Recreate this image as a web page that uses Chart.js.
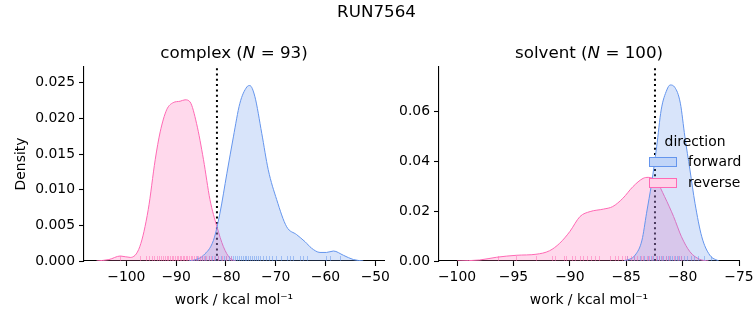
<!DOCTYPE html>
<html>
<head>
<meta charset="utf-8">
<script src="https://cdn.jsdelivr.net/npm/chart.js@4.4.1/dist/chart.umd.min.js"></script>
<style>
  body { margin: 0; background: #fff; }
  #wrap { position: relative; width: 753px; height: 325px; }
  #wrap canvas { position: absolute; left: 0; top: 0; }
</style>
</head>
<body>
<div id="wrap">
  <canvas id="complexChart" width="753" height="325"></canvas>
  <canvas id="solventChart" width="753" height="325"></canvas>
</div>
<script>
// KDE curves (work value, density)
const complexFwdX = [-87.5, -86, -84.5, -82.5, -81.2, -79.8, -78.5, -77.2, -75.8, -75.2, -74.2, -72.8, -71.5, -69.8, -67.8, -65.8, -64.1, -62.8, -61.1, -59.8, -58.4, -56.4, -54.4, -52.4];
const complexFwdY = [0, 0.0002, 0.0008, 0.0029, 0.0067, 0.0123, 0.0174, 0.0221, 0.0244, 0.0246, 0.0231, 0.0179, 0.0128, 0.0086, 0.0048, 0.0037, 0.0027, 0.0018, 0.0012, 0.0012, 0.0014, 0.0008, 0.0002, 0];
const complexRevX = [-106, -103.5, -101.2, -99.2, -97.3, -95.6, -94.2, -93.2, -91.9, -90.6, -89.2, -88.2, -87.2, -85.9, -84.5, -83.2, -81.8, -80.5, -79.2, -78];
const complexRevY = [0, 0.0002, 0.0007, 0.0005, 0.002, 0.0072, 0.0142, 0.0181, 0.0212, 0.0222, 0.0224, 0.0226, 0.0223, 0.0193, 0.0142, 0.0086, 0.0048, 0.002, 0.0004, 0];

const solventFwdX = [-85.2, -84.2, -83.6, -83.2, -82.75, -82.3, -81.9, -81.4, -81.1, -80.7, -80.2, -79.8, -79.35, -78.9, -78.3, -77.6, -76.8];
const solventFwdY = [0, 0.0024, 0.0084, 0.0191, 0.0311, 0.0458, 0.0605, 0.0685, 0.0705, 0.0696, 0.0632, 0.0498, 0.0365, 0.0231, 0.0097, 0.0024, 0];
const solventRevX = [-100, -98, -96.5, -94.7, -93, -91.8, -90.9, -90, -89.1, -88.2, -87, -86.2, -85.3, -84.4, -83.5, -83.05, -82.3, -81.6, -80.8, -80.1, -79.35, -78.5, -77.7];
const solventRevY = [0, 0.0004, 0.0015, 0.0023, 0.0027, 0.0041, 0.0071, 0.0118, 0.0178, 0.0198, 0.0208, 0.0218, 0.0251, 0.0298, 0.0331, 0.0335, 0.0318, 0.0258, 0.0178, 0.0097, 0.0037, 0.0007, 0];

// individual work values (rug)
const complexFwdRug = [-85.8, -84.9, -84.1, -83.4, -82.8, -82.1, -81.5, -80.9, -80.4, -79.9, -79.4, -78.9, -78.5, -78.1, -77.7, -77.3, -76.9, -76.6, -76.2, -75.9, -75.5, -75.2, -74.8, -74.4, -74.0, -73.6, -73.1, -72.6, -72.0, -71.4, -70.7, -69.9, -69.0, -67.8, -67.1, -66.5, -65.2, -64.5, -63.8, -59.8, -59.1, -57.1];
const complexRevRug = [-101.3, -97.2, -96.1, -95.4, -94.9, -94.4, -93.9, -93.5, -93.1, -92.7, -92.3, -91.9, -91.6, -91.2, -90.9, -90.6, -90.2, -89.9, -89.6, -89.3, -89.0, -88.7, -88.4, -88.1, -87.8, -87.4, -87.1, -86.8, -86.4, -86.0, -85.6, -85.2, -84.8, -84.3, -83.9, -83.4, -82.9, -82.3, -81.6, -80.8, -79.9, -79.0];
const solventFwdRug = [-84.9, -84.3, -83.8, -83.4, -83.1, -82.8, -82.6, -82.3, -82.1, -81.9, -81.7, -81.5, -81.3, -81.1, -80.9, -80.7, -80.5, -80.3, -80.1, -79.9, -79.6, -79.3, -79.0, -78.6, -78.1, -77.5];
const solventRevRug = [-96.4, -94.8, -93.0, -91.6, -91.3, -90.5, -90.3, -89.8, -89.5, -89.1, -88.8, -88.5, -88.1, -87.8, -87.4, -86.4, -86.0, -85.7, -85.4, -85.1, -84.9, -84.6, -84.3, -84.0, -83.7, -83.5, -83.2, -83.0, -82.7, -82.4, -82.1, -81.8, -81.5, -81.2, -80.8, -80.4, -80.1];

// free energy estimate (dotted line)
const complexDG = -81.8;
const solventDG = -82.45;

// ticks
const complexXTicks = [-100, -90, -80, -70, -60, -50];
const complexYTicks = [0, 0.005, 0.01, 0.015, 0.02, 0.025];
const solventXTicks = [-100, -95, -90, -85, -80, -75];
const solventYTicks = [0, 0.02, 0.04, 0.06];

const FONT = '"DejaVu Sans", sans-serif';
const BLUE = '#6495ed';
const PINK = '#ff69b4';

const toPoints = (xs, ys) => xs.map((x, i) => ({ x: x, y: ys[i] }));
const fmtMinus = v => (v < 0 ? '\u2212' : '') + Math.abs(v);

function kdeDataset(label, xs, ys, color, fill) {
    return {
        label: label,
        data: toPoints(xs, ys),
        borderColor: color,
        backgroundColor: fill,
        borderWidth: 1,
        fill: 'origin',
        pointRadius: 0,
        cubicInterpolationMode: 'monotone'
    };
}

function drawTitle(ctx, cx, cy, parts) {
    let total = 0;
    parts.forEach(p => {
        ctx.font = (p.italic ? 'italic ' : '') + '16.7px ' + FONT;
        p.w = ctx.measureText(p.text).width;
        total += p.w;
    });
    let x = cx - total / 2;
    ctx.textAlign = 'left';
    ctx.textBaseline = 'middle';
    ctx.fillStyle = '#000';
    parts.forEach(p => {
        ctx.font = (p.italic ? 'italic ' : '') + '16.7px ' + FONT;
        ctx.fillText(p.text, x, cy);
        x += p.w;
    });
}

// rug ticks, titles and legend
const panelExtras = {
    id: 'panelExtras',
    afterDatasetsDraw(chart, args, opts) {
        const ctx = chart.ctx;
        const area = chart.chartArea;
        const xs = chart.scales.x;
        ctx.save();
        ctx.beginPath();
        ctx.rect(area.left, area.top, area.right - area.left, area.bottom - area.top);
        ctx.clip();
        ctx.lineWidth = 1;
        opts.rug.forEach(r => {
            ctx.strokeStyle = r.color;
            r.values.forEach(v => {
                const px = Math.round(xs.getPixelForValue(v)) + 0.5;
                ctx.beginPath();
                ctx.moveTo(px, area.bottom);
                ctx.lineTo(px, area.bottom - 5);
                ctx.stroke();
            });
        });
        ctx.restore();
    },
    afterDraw(chart, args, opts) {
        const ctx = chart.ctx;
        const area = chart.chartArea;
        ctx.save();
        const cx = (area.left + area.right) / 2;
        drawTitle(ctx, cx, area.top - 13, [
            { text: opts.name + ' (' },
            { text: 'N', italic: true },
            { text: ' = ' + opts.n + ')' }
        ]);
        if (opts.suptitle) {
            drawTitle(ctx, chart.width / 2, 13, [{ text: opts.suptitle }]);
        }
        if (opts.legend) {
            ctx.font = '13.9px ' + FONT;
            ctx.textBaseline = 'middle';
            ctx.fillStyle = '#000';
            ctx.textAlign = 'center';
            ctx.fillText('direction', area.right - 44, 142);
            const items = [
                { label: 'forward', color: BLUE, fill: 'rgba(100,149,237,0.4)', y: 157 },
                { label: 'reverse', color: PINK, fill: 'rgba(255,105,180,0.3)', y: 178 }
            ];
            items.forEach(it => {
                const x0 = area.right - 90;
                ctx.fillStyle = '#fff';
                ctx.fillRect(x0, it.y, 28, 10);
                ctx.fillStyle = it.fill;
                ctx.fillRect(x0, it.y, 28, 10);
                ctx.strokeStyle = it.color;
                ctx.lineWidth = 1;
                ctx.strokeRect(x0 + 0.5, it.y + 0.5, 27, 9);
                ctx.fillStyle = '#000';
                ctx.textAlign = 'left';
                ctx.fillText(it.label, area.right - 51, it.y + 5);
            });
        }
        ctx.restore();
    }
};

function makePanel(id, cfg) {
    const tickFont = { family: FONT, size: 13.9 };
    new Chart(document.getElementById(id), {
        type: 'line',
        data: {
            datasets: [
                kdeDataset('forward', cfg.fwdX, cfg.fwdY, BLUE, 'rgba(100,149,237,0.25)'),
                kdeDataset('reverse', cfg.revX, cfg.revY, PINK, 'rgba(255,105,180,0.25)'),
                {
                    label: 'dg',
                    data: [{ x: cfg.dg, y: 0 }, { x: cfg.dg, y: cfg.yMax }],
                    borderColor: '#000',
                    borderWidth: 2,
                    borderDash: [2, 3.3],
                    pointRadius: 0,
                    fill: false
                }
            ]
        },
        options: {
            responsive: false,
            animation: false,
            devicePixelRatio: 1,
            layout: { padding: cfg.padding },
            plugins: {
                legend: { display: false },
                tooltip: { enabled: false },
                panelExtras: cfg.extras
            },
            scales: {
                x: {
                    type: 'linear',
                    min: cfg.xMin,
                    max: cfg.xMax,
                    afterBuildTicks: s => { s.ticks = cfg.xTicks.map(v => ({ value: v })); },
                    // keep the plot box fixed, labels may overhang the padding
                    afterFit: s => { s.height = 64; s.paddingLeft = 0; s.paddingRight = 0; },
                    grid: { display: true, drawOnChartArea: false, tickLength: 5, tickWidth: 1.1, tickColor: '#000' },
                    border: { display: true, color: '#000', width: 1.1 },
                    ticks: { font: tickFont, color: '#000', padding: 3, maxRotation: 0, callback: v => fmtMinus(v) },
                    title: { display: true, text: 'work / kcal mol\u207B\u00B9', font: tickFont, color: '#000', padding: { top: 0, bottom: 16.5 } }
                },
                y: {
                    min: 0,
                    max: cfg.yMax,
                    afterBuildTicks: s => { s.ticks = cfg.yTicks.map(v => ({ value: v })); },
                    afterFit: s => { s.width = cfg.yWidth; s.paddingTop = 0; s.paddingBottom = 0; },
                    grid: { display: true, drawOnChartArea: false, tickLength: 5, tickWidth: 1.1, tickColor: '#000' },
                    border: { display: true, color: '#000', width: 1.1 },
                    ticks: { font: tickFont, color: '#000', padding: 4, callback: v => v.toFixed(cfg.decimals) },
                    title: { display: cfg.yTitle, text: 'Density', font: tickFont, color: '#000', padding: { top: 12.7, bottom: 0 } }
                }
            }
        },
        plugins: [panelExtras]
    });
}

makePanel('complexChart', {
    fwdX: complexFwdX, fwdY: complexFwdY, revX: complexRevX, revY: complexRevY,
    dg: complexDG,
    xMin: -108.5, xMax: -48.25, yMax: 0.0272,
    xTicks: complexXTicks, yTicks: complexYTicks, decimals: 3,
    yWidth: 84, yTitle: true,
    padding: { top: 67, left: 0, right: 369, bottom: 0 },
    extras: {
        name: 'complex', n: 93, suptitle: 'RUN7564', legend: false,
        rug: [
            { values: complexFwdRug, color: 'rgba(100,149,237,0.5)' },
            { values: complexRevRug, color: 'rgba(255,105,180,0.5)' }
        ]
    }
});

makePanel('solventChart', {
    fwdX: solventFwdX, fwdY: solventFwdY, revX: solventRevX, revY: solventRevY,
    dg: solventDG,
    xMin: -101.6, xMax: -75, yMax: 0.0777,
    xTicks: solventXTicks, yTicks: solventYTicks, decimals: 2,
    yWidth: 49, yTitle: false,
    padding: { top: 67, left: 390, right: 14, bottom: 0 },
    extras: {
        name: 'solvent', n: 100, legend: true,
        rug: [
            { values: solventFwdRug, color: 'rgba(100,149,237,0.5)' },
            { values: solventRevRug, color: 'rgba(255,105,180,0.5)' }
        ]
    }
});
</script>
</body>
</html>
